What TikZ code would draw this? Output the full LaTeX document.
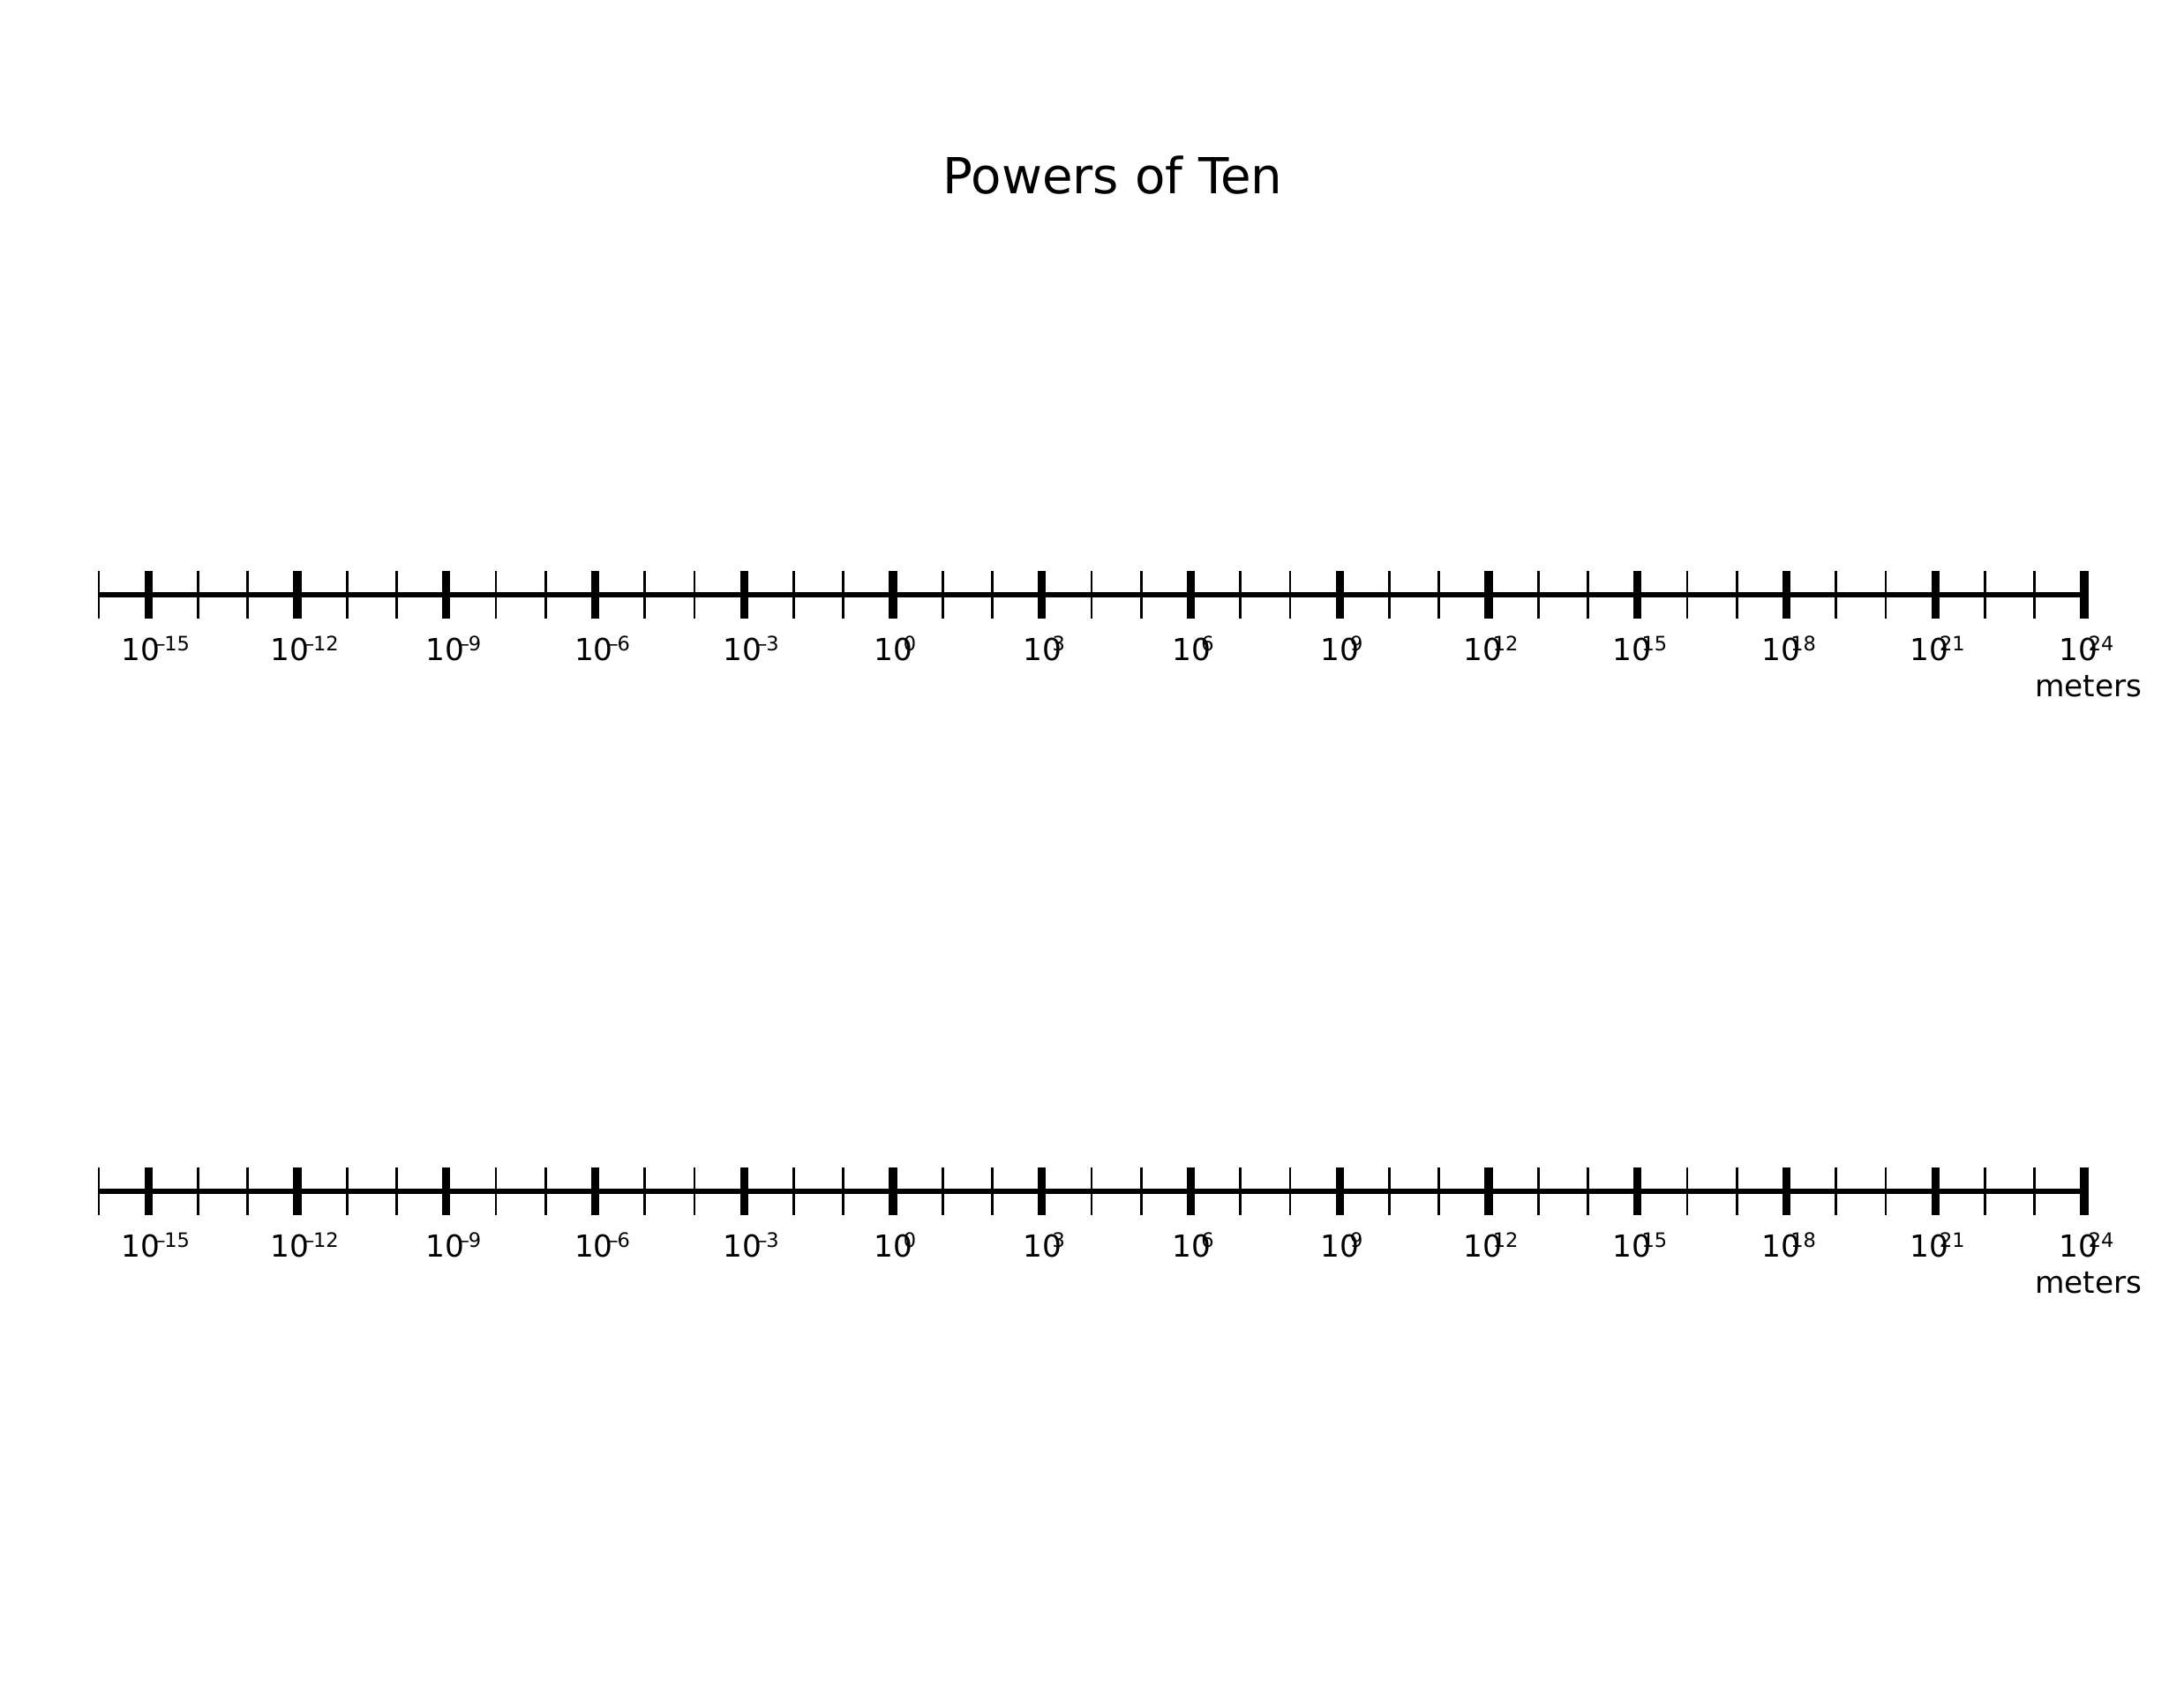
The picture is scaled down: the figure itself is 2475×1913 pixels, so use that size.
\documentclass[tikz,border=0pt]{standalone}
\usepackage{fontspec}
\setmainfont{DejaVu Sans}

\begin{document}
\begin{tikzpicture}[x=0.32pt,y=-0.32pt,
axisline/.style={line width=1.8pt},
expo/.style={anchor=base west,inner sep=0pt,font=\fontsize{11}{13}\selectfont},
unitlab/.style={anchor=base,inner sep=0pt,font=\fontsize{11}{13}\selectfont},
heading/.style={anchor=base,inner sep=0pt,font=\fontsize{18}{22}\selectfont}]
\useasboundingbox (0,0) rectangle (2475,1913);
\node[heading] (title) at (1261,219) {Powers of Ten};
% two identical scales, 10^-16 ... 10^24 m
\foreach \r/\ya in {1/674,2/1350}{
  \draw[axisline] (112,\ya) -- (2362,\ya);
  \foreach \i in {0,...,40}{
    \pgfmathsetmacro\lw{ifthenelse(mod(\i,3)==1,2.9,0.9)}
    \draw[line width=\lw pt] (112+56.25*\i,\ya-27) -- (112+56.25*\i,\ya+27);
  }
  \foreach \e in {-15,-12,...,24}{
    \pgfmathsetmacro\xl{112+56.25*(\e+16)-7*(abs(\e)>9)-2*(\e<0)-22}
    \pgfmathtruncatemacro\ab{abs(\e)}
    \node[expo] (exp\r\e) at (\xl,\ya+74.5)
      {10\kern-3.4pt\raisebox{3.6pt}{\fontsize{7.2}{9}\selectfont\ifnum\e<0 \kern1.7pt–\kern-0.4pt\fi\ab}};
  }
  \node[unitlab] (unit\r) at (2367,\ya+115) {meters};
}
\end{tikzpicture}
\end{document}
